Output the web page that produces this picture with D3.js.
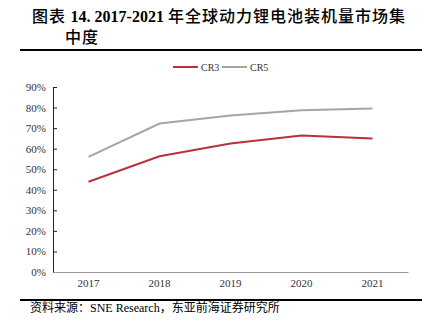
<!DOCTYPE html>
<html>
<head>
<meta charset="utf-8">
<script src="https://cdn.jsdelivr.net/npm/d3@7"></script>
<style>
  html, body { margin: 0; padding: 0; background: #fff; }
  svg { display: block; }
</style>
</head>
<body>
<svg id="chart" width="431" height="334"></svg>
<script>
// Market concentration of global EV battery installations, 2017–2021
const years = ["2017", "2018", "2019", "2020", "2021"];
const cr3 = [0.439, 0.563, 0.625, 0.664, 0.649];
const cr5 = [0.560, 0.722, 0.761, 0.787, 0.795];
const yTicks = [0, 0.1, 0.2, 0.3, 0.4, 0.5, 0.6, 0.7, 0.8, 0.9];
const seriesNames = ["CR3", "CR5"];
const seriesColors = ["#B8323A", "#A5A5A5"];

const svg = d3.select("#chart");
const serif = "'Liberation Serif', 'Times New Roman', serif";
const cjk = "'Noto Sans CJK SC', sans-serif";

// Title (two lines)
const title = svg.append("text").attr("x", 32).attr("y", 22).attr("font-size", 16).attr("fill", "#000");
title.append("tspan").attr("font-family", cjk).attr("font-weight", 500).attr("letter-spacing", 1).text("图表 ");
title.append("tspan").attr("font-family", serif).attr("font-weight", "bold").text("14. 2017-2021 ");
title.append("tspan").attr("font-family", cjk).attr("font-weight", 500).attr("letter-spacing", 1).text("年全球动力锂电池装机量市场集");
svg.append("text").attr("x", 65).attr("y", 43).attr("font-size", 16)
  .attr("font-family", cjk).attr("font-weight", 500).attr("letter-spacing", 1)
  .attr("fill", "#000").text("中度");

svg.append("line").attr("x1", 20).attr("x2", 422).attr("y1", 50).attr("y2", 50)
  .attr("stroke", "#000").attr("stroke-width", 2);

// Plot area
const margin = { left: 53, right: 408, top: 87, bottom: 272 };
const x = d3.scaleBand().domain(years).range([margin.left, margin.right]);
const y = d3.scaleLinear().domain([0, 0.9]).range([margin.bottom, margin.top]);

// Y axis
const yAxis = svg.append("g").attr("transform", `translate(${margin.left},0)`)
  .call(d3.axisLeft(y).tickValues(yTicks).tickFormat(d3.format(".0%")).tickSize(-4).tickPadding(7));
yAxis.select(".domain").attr("stroke", "#222").attr("stroke-width", 1);
yAxis.selectAll(".tick line").attr("stroke", "#222");
yAxis.selectAll("text").attr("font-family", serif).attr("font-size", 11).attr("fill", "#333");

// X axis
const xAxis = svg.append("g").attr("transform", `translate(0,${margin.bottom})`)
  .call(d3.axisBottom(x).tickSize(0).tickPadding(7));
xAxis.select(".domain").attr("stroke", "#999").attr("stroke-width", 1.2);
xAxis.selectAll("text").attr("font-family", serif).attr("font-size", 11).attr("fill", "#333");

// Lines
const line = d3.line().x((d, i) => x(years[i]) + x.bandwidth() / 2).y(d => y(d));
[cr3, cr5].forEach((vals, k) => {
  svg.append("path").datum(vals).attr("d", line)
    .attr("fill", "none").attr("stroke", seriesColors[k]).attr("stroke-width", 2);
});

// Legend
const legendX = [173, 222];
seriesNames.forEach((name, k) => {
  const g = svg.append("g").attr("transform", `translate(${legendX[k]},67)`);
  g.append("line").attr("x1", 0).attr("x2", 25).attr("y1", 0).attr("y2", 0)
    .attr("stroke", seriesColors[k]).attr("stroke-width", 2);
  g.append("text").attr("x", 28).attr("y", 3.5).attr("font-family", serif)
    .attr("font-size", 10).attr("fill", "#333").text(name);
});

// Source note
svg.append("line").attr("x1", 20).attr("x2", 422).attr("y1", 300).attr("y2", 300)
  .attr("stroke", "#000").attr("stroke-width", 2);
const src = svg.append("text").attr("x", 30).attr("y", 312).attr("font-size", 12).attr("fill", "#000");
src.append("tspan").attr("font-family", cjk).text("资料来源：");
src.append("tspan").attr("font-family", serif).text("SNE Research");
src.append("tspan").attr("font-family", cjk).text("，东亚前海证券研究所");
</script>
</body>
</html>
